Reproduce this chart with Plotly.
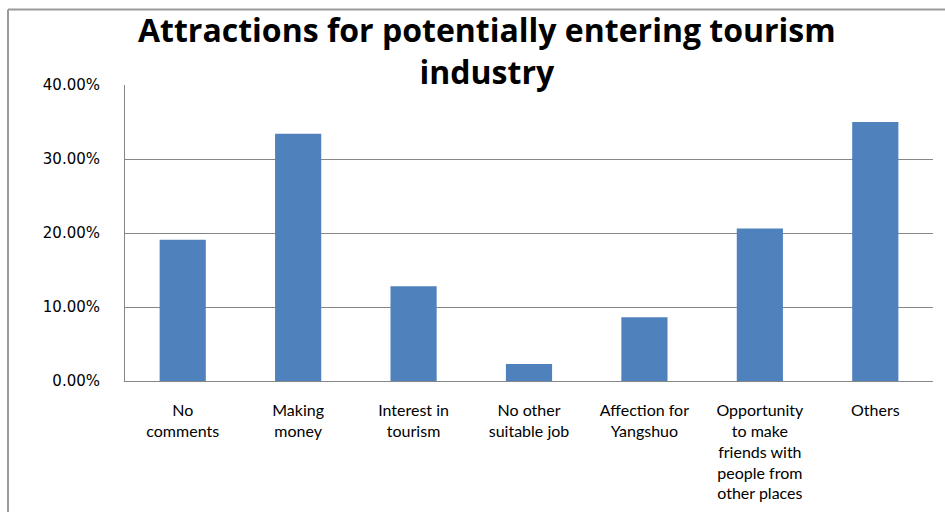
import plotly.graph_objects as go

categories = [
    "No<br>comments",
    "Making<br>money",
    "Interest in<br>tourism",
    "No other<br>suitable job",
    "Affection for<br>Yangshuo",
    "Opportunity<br>to make<br>friends with<br>people from<br>other places",
    "Others",
]
values = [0.191, 0.334, 0.128, 0.023, 0.086, 0.206, 0.350]
y_ticks = [0, 0.1, 0.2, 0.3, 0.4]

BAR = "#4F81BD"
GRID = "#868686"

fig = go.Figure(go.Bar(x=list(range(len(categories))), y=values, marker=dict(color=BAR, line=dict(width=0))))

fig.update_layout(
    width=945, height=512,
    margin=dict(l=125, r=12, t=85, b=131),
    paper_bgcolor="white", plot_bgcolor="white",
    bargap=0.6, showlegend=False,
    font=dict(family="Lato", color="#000000"),
)
fig.update_xaxes(
    tickmode="array", tickvals=list(range(len(categories))), ticktext=categories,
    range=[-0.5, len(categories) - 0.5], automargin=False,
    showline=True, linecolor=GRID, linewidth=1, showgrid=False, zeroline=False,
    tickangle=0, ticks="", ticklabelstandoff=15,
    tickfont=dict(family="Lato", size=16, color="#000000"),
)
fig.update_yaxes(
    range=[0, 0.4], tickvals=y_ticks, tickformat=".2%", automargin=False,
    showline=True, linecolor=GRID, linewidth=1,
    showgrid=True, gridcolor=GRID, gridwidth=1, zeroline=False,
    ticks="", ticklabelstandoff=21,
    tickfont=dict(family="DejaVu Sans", size=15, color="#000000"),
)

fig.add_annotation(
    text="<b>Attractions for potentially entering tourism<br>industry</b>",
    xref="paper", yref="paper", x=(487 - 125) / 808, y=(381 - 51) / 296,
    xanchor="center", yanchor="middle", showarrow=False,
    font=dict(family="Open Sans", size=32, color="#000000"),
)

# outer chart border (left and top visible)
fig.add_shape(type="line", xref="paper", yref="paper",
              x0=(8 - 125) / 808, x1=(8 - 125) / 808,
              y0=(381 - 9.5) / 296, y1=(381 - 520) / 296,
              line=dict(color="#9a9a9a", width=2))
fig.add_shape(type="line", xref="paper", yref="paper",
              x0=(8 - 125) / 808, x1=(950 - 125) / 808,
              y0=(381 - 9.5) / 296, y1=(381 - 9.5) / 296,
              line=dict(color="#9a9a9a", width=2))

fig.write_html("out.html")
